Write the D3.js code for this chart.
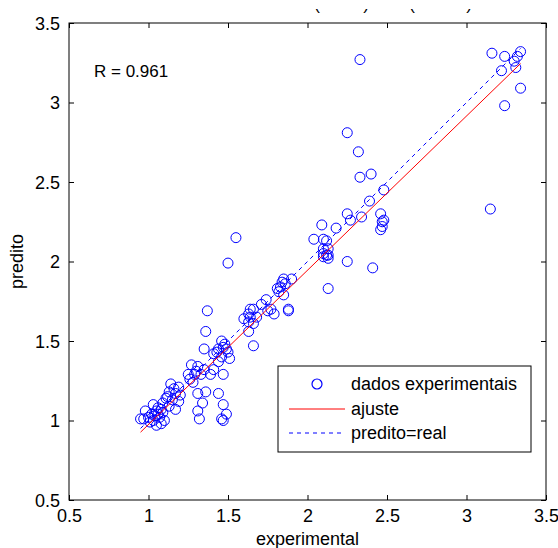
<!DOCTYPE html>
<html>
<head>
<meta charset="utf-8">
<script src="https://cdn.jsdelivr.net/npm/d3@7"></script>
<style>
  html, body { margin: 0; padding: 0; background: #ffffff; }
  svg { display: block; font-family: "Liberation Sans", Arial, Helvetica, sans-serif; }
</style>
</head>
<body>
<svg id="chart" width="558" height="548"></svg>
<script>
// ---- data ----
const experimental = [
  3.16,3.24,3.34,3.32,3.22,3.31,3.34,3.24,3.15,3.30,
  2.33,
  2.25,2.32,2.33,2.40,2.48,2.39,2.25,2.27,2.34,2.46,2.47,2.47,2.46,2.48,
  2.09,2.18,2.04,2.10,2.10,2.12,2.10,2.13,2.12,2.13,2.10,2.13,
  2.25,2.41,2.13,
  1.55,1.50,
  1.85,1.86,1.83,1.82,1.85,1.84,1.81,1.90,
  1.88,1.88,
  1.74,1.71,1.77,1.75,1.79,
  1.64,1.63,1.64,1.60,1.66,1.68,1.63,1.66,
  1.63,1.66,
  1.37,1.36,1.35,
  1.46,1.47,1.44,1.50,1.41,1.46,1.51,1.44,1.48,1.43,1.49,
  1.47,1.41,
  1.27,1.31,1.35,1.29,1.25,1.33,1.39,1.28,1.30,1.26,
  1.31,1.36,1.44,1.34,1.47,1.31,1.49,1.32,1.46,1.47,
  1.14,1.19,1.13,1.17,1.20,1.11,1.15,1.19,1.09,1.13,1.17,1.08,1.16,1.12,
  1.03,0.98,1.05,1.02,1.07,0.97,1.03,0.95,1.08,1.10,1.05,1.00,1.04,1.06,1.01,1.09,1.06
];
const predito = [
  3.31,3.29,3.32,3.29,3.20,3.22,3.09,2.98,2.33,3.26,
  3.27,
  2.81,2.69,2.53,2.55,2.45,2.38,2.30,2.26,2.28,2.30,2.25,2.22,2.20,2.26,
  2.23,2.21,2.14,2.14,2.08,2.04,2.03,2.04,2.13,2.08,2.05,2.02,
  2.00,1.96,1.83,
  2.15,1.99,
  1.89,1.86,1.84,1.81,1.79,1.87,1.83,1.89,
  1.70,1.69,
  1.76,1.73,1.70,1.69,1.67,
  1.70,1.67,1.65,1.64,1.70,1.65,1.62,1.61,
  1.56,1.47,
  1.69,1.56,1.45,
  1.50,1.46,1.45,1.43,1.42,1.40,1.39,1.37,1.48,1.43,1.45,
  1.29,1.32,
  1.35,1.34,1.32,1.29,1.29,1.29,1.29,1.24,1.31,1.26,
  1.17,1.18,1.17,1.11,1.10,1.06,1.04,1.01,1.01,1.00,
  1.23,1.21,1.18,1.17,1.16,1.14,1.13,1.12,1.11,1.09,1.07,1.07,1.20,1.15,
  1.10,1.06,1.06,1.04,1.02,1.01,1.00,1.01,0.98,1.00,0.97,1.02,1.03,1.04,0.99,1.05,1.08
];
const xTicks = [0.5, 1, 1.5, 2, 2.5, 3, 3.5];
const yTicks = [0.5, 1, 1.5, 2, 2.5, 3, 3.5];
const fitSlope = 0.97;
const fitIntercept = 0.005;
const rLabel = "R = 0.961";
const legendLabels = ["dados experimentais", "ajuste", "predito=real"];
const titleParens = ["(", ")", "(", ")"];
const titleParenX = [317, 366, 412, 469];

// ---- layout ----
const svg = d3.select("#chart");
const L = 69, R = 546, T = 23, B = 500;
const x = d3.scaleLinear().domain([0.5, 3.5]).range([L, R]);
const y = d3.scaleLinear().domain([0.5, 3.5]).range([B, T]);
const FS = 18;

// clipped title fragments (only the bottoms are visible in the picture)
svg.append("clipPath").attr("id", "titleClip")
  .append("rect").attr("x", 0).attr("y", 9).attr("width", 558).attr("height", 10);
svg.append("g").attr("clip-path", "url(#titleClip)")
  .selectAll("text").data(titleParens).join("text")
  .attr("x", (d, i) => titleParenX[i]).attr("y", 10)
  .attr("text-anchor", "middle")
  .attr("font-size", 17).attr("fill", "#000")
  .text(d => d);

// plot clip
svg.append("clipPath").attr("id", "plotClip")
  .append("rect").attr("x", L).attr("y", T).attr("width", R - L).attr("height", B - T);

const plot = svg.append("g").attr("clip-path", "url(#plotClip)");

const data = experimental.map((v, i) => ({ x: v, y: predito[i] }));
const ext = d3.extent(experimental);

// points
plot.selectAll("circle.pt").data(data).join("circle")
  .attr("class", "pt")
  .attr("cx", d => x(d.x)).attr("cy", d => y(d.y)).attr("r", 5)
  .attr("fill", "none").attr("stroke", "#0000ff").attr("stroke-width", 1);

// identity line (dashed)
const line = d3.line().x(d => x(d[0])).y(d => y(d[1]));
plot.append("path")
  .attr("d", line([[ext[0], ext[0]], [ext[1], ext[1]]]))
  .attr("fill", "none").attr("stroke", "#0000ff").attr("stroke-width", 1)
  .attr("stroke-dasharray", "4,4");

// fit line
plot.append("path")
  .attr("d", line([[ext[0], fitSlope * ext[0] + fitIntercept], [ext[1], fitSlope * ext[1] + fitIntercept]]))
  .attr("fill", "none").attr("stroke", "#ff0000").attr("stroke-width", 1);

// axes box
svg.append("rect").attr("x", L).attr("y", T).attr("width", R - L).attr("height", B - T)
  .attr("fill", "none").attr("stroke", "#000").attr("stroke-width", 1);

const tk = 5;
const axB = d3.axisBottom(x).tickValues(xTicks).tickSize(-tk).tickFormat(d3.format("")).tickPadding(9);
const axT = d3.axisTop(x).tickValues(xTicks).tickSize(-tk).tickFormat("");
const axLft = d3.axisLeft(y).tickValues(yTicks).tickSize(-tk).tickFormat(d3.format("")).tickPadding(9);
const axRgt = d3.axisRight(y).tickValues(yTicks).tickSize(-tk).tickFormat("");

function style(g) {
  g.select(".domain").remove();
  g.selectAll("line").attr("stroke", "#000");
  g.selectAll("text").attr("font-size", FS).attr("fill", "#000")
    .attr("font-family", "'Liberation Sans', Arial, sans-serif");
}
svg.append("g").attr("transform", `translate(0,${B})`).call(axB).call(style)
  .selectAll("text").attr("dy", "0.71em");
svg.append("g").attr("transform", `translate(0,${T})`).call(axT).call(style);
svg.append("g").attr("transform", `translate(${L},0)`).call(axLft).call(style)
  .selectAll("text").attr("dy", "0.36em");
svg.append("g").attr("transform", `translate(${R},0)`).call(axRgt).call(style);

// axis labels
svg.append("text").attr("x", (L + R) / 2).attr("y", 545).attr("text-anchor", "middle")
  .attr("font-size", FS).text("experimental");
svg.append("text").attr("transform", `translate(23,${(T + B) / 2}) rotate(-90)`)
  .attr("text-anchor", "middle").attr("font-size", FS).text("predito");

// R label
svg.append("text").attr("x", 94).attr("y", 77).attr("font-size", 17).text(rLabel);

// legend
const lg = svg.append("g");
lg.append("rect").attr("x", 278).attr("y", 366).attr("width", 253).attr("height", 86)
  .attr("fill", "#fff").attr("stroke", "#000").attr("stroke-width", 1);
const rowY = [384, 409, 433];
lg.append("circle").attr("cx", 317).attr("cy", rowY[0]).attr("r", 5)
  .attr("fill", "none").attr("stroke", "#0000ff").attr("stroke-width", 1.2);
lg.append("line").attr("x1", 289).attr("x2", 345).attr("y1", rowY[1]).attr("y2", rowY[1])
  .attr("stroke", "#ff0000").attr("stroke-width", 1);
lg.append("line").attr("x1", 289).attr("x2", 345).attr("y1", rowY[2]).attr("y2", rowY[2])
  .attr("stroke", "#0000ff").attr("stroke-width", 1).attr("stroke-dasharray", "4,4");
lg.selectAll("text").data(legendLabels).join("text")
  .attr("x", 351).attr("y", (d, i) => rowY[i]).attr("dy", "0.36em")
  .attr("font-size", FS).attr("fill", "#000").text(d => d);
</script>
</body>
</html>
